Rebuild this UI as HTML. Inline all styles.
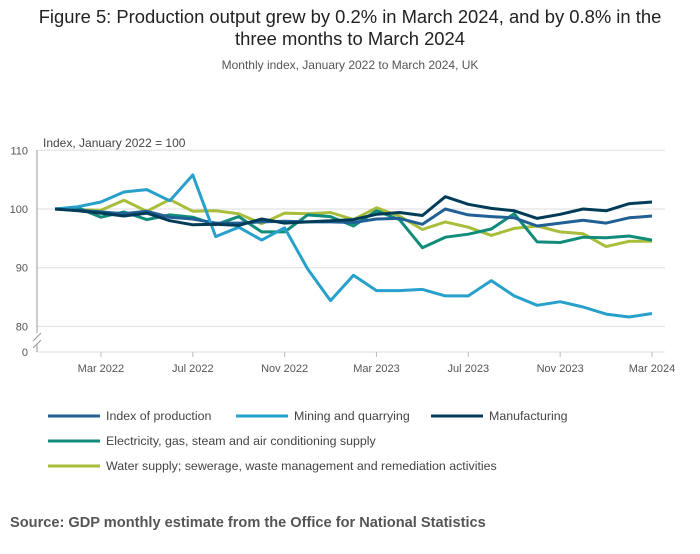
<!DOCTYPE html>
<html><head><meta charset="utf-8"><style>
body{margin:0;background:#fff;font-family:"Liberation Sans",sans-serif;}
svg text{font-family:"Liberation Sans",sans-serif;}
</style></head><body>
<svg id="chart" width="700" height="549">
<text x="350" y="23" text-anchor="middle" font-size="18.4" fill="#222">Figure 5: Production output grew by 0.2% in March 2024, and by 0.8% in the</text>
<text x="350" y="45" text-anchor="middle" font-size="18.4" fill="#222">three months to March 2024</text>
<text x="350" y="69" text-anchor="middle" font-size="12" fill="#555">Monthly index, January 2022 to March 2024, UK</text>
<text x="43" y="147" font-size="12" fill="#444">Index, January 2022 = 100</text>
<g id="grid"></g><g id="series"></g><g id="xaxis"></g><g id="legend"></g>
<text x="10" y="527" font-size="14.6" font-weight="bold" fill="#555">Source: GDP monthly estimate from the Office for National Statistics</text>
</svg>
<script>
const NS="http://www.w3.org/2000/svg";
const months=27;
const yTicks=[80,90,100,110];
const xTickIdx=[2,6,10,14,18,22,26];
const xTickLabels=["Mar 2022","Jul 2022","Nov 2022","Mar 2023","Jul 2023","Nov 2023","Mar 2024"];
const seriesNames=["Index of production","Mining and quarrying","Manufacturing","Electricity, gas, steam and air conditioning supply","Water supply; sewerage, waste management and remediation activities"];
const seriesColors=["#206095","#27a0cc","#003c57","#118c7b","#a8bd3a"];
const production=[100,99.8,99.5,99.2,99.6,98.6,98.3,97.6,97.6,97.8,97.9,97.8,97.8,97.7,98.3,98.4,97.4,100,99,98.7,98.5,97.1,97.6,98.1,97.6,98.5,98.8];
const mining=[100,100.4,101.2,102.9,103.3,101.4,105.8,95.3,96.9,94.7,96.8,89.8,84.4,88.7,86.1,86.1,86.3,85.2,85.2,87.8,85.2,83.6,84.2,83.3,82.1,81.6,82.2];
const manufacturing=[100,99.7,99.3,98.8,99.3,98,97.3,97.4,97.2,98.3,97.6,97.8,98,98.2,99.1,99.4,98.9,102.1,100.8,100.1,99.7,98.4,99.1,100,99.7,100.9,101.2];
const electricity=[100,100.2,98.6,99.5,98.2,99,98.6,97.3,98.7,96.1,96.1,99,98.7,97.1,99.7,98.2,93.4,95.2,95.7,96.6,99.2,94.4,94.3,95.2,95.1,95.4,94.7];
const water=[100,99.9,99.8,101.5,99.6,101.6,99.6,99.7,99.2,97.5,99.3,99.2,99.4,98.2,100.2,98.8,96.5,97.8,96.9,95.5,96.7,97.1,96.1,95.8,93.6,94.5,94.5];
const allSeries=[production,mining,manufacturing,electricity,water];
const seriesKeys=["production","mining","manufacturing","electricity","water"];
const X=i=>55+i*(652-55)/(months-1);
const Y=v=>209-(v-100)*5.87;
function mk(tag,attrs,parent){const e=document.createElementNS(NS,tag);for(const k in attrs)e.setAttribute(k,attrs[k]);parent.appendChild(e);return e;}
const grid=document.getElementById('grid');
yTicks.forEach(t=>{
 const l=mk('line',{x1:37,x2:665,y1:Y(t),y2:Y(t),stroke:'#ddd'},grid);
 
 
 const tx=mk('text',{x:28,y:Y(t)+4,'text-anchor':'end','font-size':11,fill:'#555'},grid);tx.textContent=t;
 
 
});
const zl=mk('line',{x1:37,x2:665,y1:352,y2:352,stroke:'#ddd'},grid);


const z=mk('text',{x:28,y:356,'text-anchor':'end','font-size':11,fill:'#555'},grid);z.textContent='0';


const ax=mk('path',{d:'M37 150 V333 M37 345 V352 M33 341 L41 333 M33 348 L41 340',stroke:'#999',fill:'none'},grid);


const xa=document.getElementById('xaxis');
xTickIdx.forEach((idx,k)=>{
 mk('line',{x1:X(idx),x2:X(idx),y1:352,y2:357,stroke:'#bbb'},xa);
 const t=mk('text',{x:X(idx),y:372,'text-anchor':'middle','font-size':11,fill:'#555'},xa);t.textContent=xTickLabels[k];
 
 
});
const sg=document.getElementById('series');
[4,3,0,1,2].forEach(s=>{
 const d=allSeries[s].map((v,i)=>(i?'L':'M')+X(i).toFixed(1)+' '+Y(v).toFixed(1)).join(' ');
 const p=mk('path',{d:d,stroke:seriesColors[s],'stroke-width':3,fill:'none','stroke-linejoin':'round'},sg);
 
 
});
const lg=document.getElementById('legend');
const legPos=[[48,416],[236,416],[431,416],[48,441],[48,466]];
seriesNames.forEach((n,s)=>{
 const [lx,ly]=legPos[s];
 const g=mk('g',{},lg);
 
 
 mk('line',{x1:lx,x2:lx+52,y1:ly,y2:ly,stroke:seriesColors[s],'stroke-width':3},g);
 const t=mk('text',{x:lx+58,y:ly+4,'font-size':12.4,fill:'#444'},g);t.textContent=n;
});
</script>
</body></html>
